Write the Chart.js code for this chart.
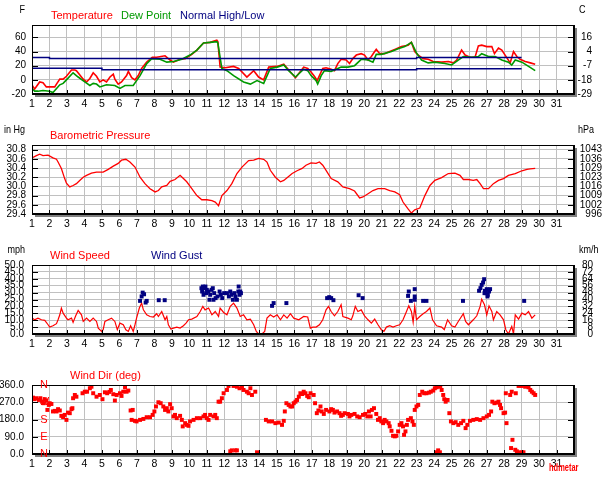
<!DOCTYPE html>
<html lang="en">
<head>
<meta charset="UTF-8">
<title>Weather month</title>
<script src="https://cdn.jsdelivr.net/npm/chart.js@4.4.0/dist/chart.umd.min.js"></script>
<style>
    body{ margin:0; background:#fff; width:614px; height:480px; overflow:hidden; }
    .panel{ position:absolute; left:0; width:614px; height:120px; }
</style>
</head>
<body>
<div class="panel" style="top:0"><canvas id="temp" width="614" height="120"></canvas></div>
<div class="panel" style="top:120px"><canvas id="baro" width="614" height="120"></canvas></div>
<div class="panel" style="top:240px"><canvas id="wind" width="614" height="120"></canvas></div>
<div class="panel" style="top:360px"><canvas id="dir" width="614" height="120"></canvas></div>
<script>
// ---- data: [day of month, value] ----
var dayTicks = [1,2,3,4,5,6,7,8,9,10,11,12,13,14,15,16,17,18,19,20,21,22,23,24,25,26,27,28,29,30,31];

var tempTicks = [-20, 0, 20, 40, 60];
var tempF = [[1.00,-7],[1.15,-13],[1.44,-3],[1.63,-4],[1.82,-10],[2.30,-10],[2.40,-6],[2.59,1],[2.78,1],[2.97,5],[3.26,14],[3.45,14],[3.54,13],[3.93,1],[4.12,-3],[4.31,2],[4.50,10],[4.69,5],[4.88,-3],[5.07,0],[5.26,-3],[5.46,4],[5.65,8],[5.74,1],[5.93,-6],[6.12,-3],[6.41,6],[6.51,12],[6.70,3],[6.89,0],[7.08,6],[7.27,16],[7.56,25],[7.88,32],[8.13,32],[8.61,34],[8.90,28],[9.09,25],[9.47,29],[9.76,30],[10.14,36],[10.43,42],[10.81,52],[11.19,53],[11.57,56],[11.63,54],[11.76,18],[12.05,17],[12.53,19],[12.82,16],[13.29,4],[13.68,13],[13.96,4],[14.25,0],[14.54,18],[15.02,19],[15.40,22],[15.78,11],[16.07,3],[16.54,18],[16.77,16],[16.96,11],[17.15,5],[17.31,-1],[17.44,6],[17.63,16],[17.82,17],[18.11,15],[18.30,13],[18.49,23],[18.68,29],[18.97,28],[19.16,23],[19.35,30],[19.55,35],[19.83,37],[20.02,35],[20.22,28],[20.41,33],[20.60,40],[20.69,43],[20.89,37],[21.17,37],[21.46,40],[21.75,43],[22.13,47],[22.51,49],[22.70,53],[22.89,40],[23.09,35],[23.37,30],[23.66,29],[23.95,26],[24.43,25],[24.81,26],[25.10,24],[25.29,28],[25.57,42],[25.77,35],[26.05,32],[26.34,32],[26.53,48],[26.72,49],[27.01,47],[27.30,47],[27.45,37],[27.68,45],[27.87,42],[28.06,35],[28.35,24],[28.54,40],[28.73,33],[28.92,29],[29.21,26],[29.50,24],[29.78,22]];
var dewF = [[1.00,-12],[1.15,-16],[1.34,-16],[1.63,-15],[2.01,-16],[2.20,-18],[2.59,-7],[2.78,-5],[2.97,0],[3.35,10],[3.64,4],[4.02,-3],[4.31,-8],[4.50,-5],[4.69,-6],[4.88,-10],[5.26,-7],[5.74,-8],[6.03,-12],[6.32,-8],[6.79,-8],[7.18,6],[7.56,23],[7.85,30],[8.32,29],[8.71,25],[9.09,26],[9.57,29],[10.04,35],[10.43,42],[10.81,52],[11.19,53],[11.57,54],[11.63,52],[11.86,16],[12.15,13],[12.53,6],[13.10,-3],[13.49,-6],[13.87,-1],[14.25,-5],[14.63,16],[15.02,18],[15.40,21],[15.68,13],[16.07,4],[16.54,15],[16.77,13],[16.96,6],[17.25,-1],[17.34,-6],[17.54,6],[17.73,13],[18.11,12],[18.49,16],[18.68,18],[19.07,18],[19.45,20],[19.83,29],[20.22,28],[20.50,25],[20.69,36],[20.98,36],[21.56,40],[21.94,44],[22.32,47],[22.70,53],[22.99,38],[23.28,28],[23.66,24],[24.04,25],[24.62,23],[25.00,21],[25.38,28],[25.67,33],[26.15,32],[26.53,33],[26.72,37],[27.11,33],[27.49,33],[27.87,28],[28.25,25],[28.44,21],[28.64,28],[29.02,25],[29.40,19],[29.78,13]];
var normHigh = [[1,31.6],[2,31.6],[2,30.2],[23,30.2],[23,31.6],[29,31.6]];
var normLow = [[1,16.3],[5,16.3],[5,14.4],[23,14.4],[23,15.8],[29,15.8]];

var baroTicks = [29.4, 29.6, 29.8, 30.0, 30.2, 30.4, 30.6, 30.8];
var baroInHg = [[1.00,30.62],[1.25,30.67],[1.44,30.70],[1.63,30.67],[1.92,30.68],[2.20,30.62],[2.40,30.59],[2.49,30.53],[2.68,30.39],[2.87,30.17],[2.97,30.07],[3.16,29.99],[3.35,30.02],[3.54,30.06],[3.73,30.13],[3.93,30.20],[4.12,30.24],[4.40,30.29],[4.69,30.31],[5.07,30.31],[5.36,30.37],[5.65,30.44],[5.93,30.50],[6.12,30.57],[6.37,30.59],[6.60,30.53],[6.89,30.42],[7.18,30.20],[7.46,30.06],[7.75,29.95],[8.04,29.88],[8.23,29.91],[8.42,29.99],[8.71,30.02],[8.90,30.11],[9.18,30.15],[9.47,30.24],[9.66,30.17],[9.85,30.10],[10.14,29.95],[10.43,29.80],[10.71,29.71],[11.00,29.71],[11.29,29.69],[11.48,29.66],[11.67,29.58],[11.86,29.80],[12.15,29.91],[12.43,30.06],[12.72,30.28],[13.01,30.42],[13.39,30.56],[13.68,30.57],[13.96,30.61],[14.25,30.59],[14.44,30.53],[14.63,30.35],[14.92,30.20],[15.21,30.10],[15.40,30.13],[15.59,30.19],[15.88,30.28],[16.16,30.34],[16.45,30.39],[16.67,30.46],[16.96,30.51],[17.25,30.50],[17.44,30.53],[17.63,30.46],[17.82,30.35],[18.11,30.17],[18.49,30.10],[18.78,29.99],[19.16,29.95],[19.45,29.90],[19.74,29.75],[19.93,29.77],[20.22,29.84],[20.50,29.91],[20.79,29.95],[21.17,29.95],[21.46,29.91],[21.75,29.88],[22.03,29.82],[22.22,29.66],[22.51,29.51],[22.70,29.42],[22.89,29.49],[23.18,29.53],[23.47,29.80],[23.76,30.02],[24.04,30.13],[24.43,30.19],[24.81,30.28],[25.19,30.29],[25.48,30.24],[25.67,30.15],[25.96,30.15],[26.24,30.13],[26.44,30.15],[26.63,30.06],[26.82,29.95],[27.11,29.95],[27.39,30.06],[27.68,30.13],[27.97,30.17],[28.25,30.24],[28.64,30.28],[29.02,30.34],[29.31,30.37],[29.50,30.38],[29.78,30.39]];

var windTicks = [0, 5, 10, 15, 20, 25, 30, 35, 40, 45, 50];
var windMph = [[1.00,11.5],[1.15,10.3],[1.34,11.5],[1.54,10.3],[1.73,9.9],[1.92,6.7],[2.01,5.0],[2.20,6.0],[2.40,7.5],[2.49,10.3],[2.59,13.9],[2.68,18.8],[2.78,15.1],[2.97,11.5],[3.06,10.3],[3.26,11.5],[3.35,8.4],[3.50,13.2],[3.64,17.1],[3.83,13.9],[3.93,9.1],[4.12,11.5],[4.31,9.1],[4.50,11.5],[4.69,9.1],[4.79,4.3],[4.98,1.9],[5.07,3.1],[5.17,9.1],[5.36,10.3],[5.55,11.5],[5.74,9.1],[5.88,3.1],[6.03,7.9],[6.22,6.7],[6.37,3.1],[6.51,1.9],[6.64,6.0],[6.79,1.9],[6.89,6.7],[6.98,11.5],[7.14,18.8],[7.27,22.4],[7.37,17.5],[7.56,13.9],[7.75,12.7],[7.94,12.3],[8.13,14.7],[8.23,12.7],[8.42,16.3],[8.61,10.3],[8.71,12.7],[8.80,6.7],[8.94,3.6],[9.09,4.3],[9.28,5.0],[9.47,4.3],[9.66,6.0],[9.81,7.9],[9.95,10.3],[10.14,10.8],[10.43,12.7],[10.62,16.3],[10.77,20.0],[10.90,17.5],[11.10,18.8],[11.29,13.9],[11.48,16.3],[11.67,12.7],[11.76,18.8],[11.96,15.6],[12.15,13.9],[12.34,20.0],[12.53,22.4],[12.72,18.8],[12.91,12.7],[13.10,13.9],[13.29,10.3],[13.49,10.8],[13.68,6.7],[13.83,1.9],[13.96,0],[14.15,0],[14.31,1.9],[14.44,11.5],[14.63,13.9],[14.82,12.3],[15.02,13.9],[15.21,10.3],[15.40,13.9],[15.59,11.5],[15.78,14.7],[15.97,11.5],[16.26,10.3],[16.54,12.7],[16.77,12.3],[16.92,4.3],[17.06,5.0],[17.25,5.0],[17.44,6.7],[17.63,10.3],[17.82,17.5],[17.96,20.0],[18.11,16.3],[18.30,13.2],[18.49,16.3],[18.68,21.2],[18.78,12.7],[19.07,11.5],[19.26,10.3],[19.35,13.2],[19.49,20.0],[19.64,16.3],[19.83,17.5],[20.02,13.2],[20.22,10.3],[20.41,7.9],[20.60,10.8],[20.79,6.7],[20.98,3.1],[21.13,1.9],[21.27,5.0],[21.46,6.0],[21.65,5.0],[21.84,6.0],[22.03,6.7],[22.22,10.3],[22.42,16.3],[22.55,20.4],[22.70,16.3],[22.80,8.4],[22.89,20.0],[22.99,10.3],[23.18,12.7],[23.37,14.7],[23.56,16.3],[23.76,18.8],[23.91,10.3],[24.14,6.0],[24.43,5.0],[24.58,3.1],[24.77,10.3],[25.00,6.0],[25.19,5.0],[25.38,9.1],[25.67,14.7],[25.80,9.1],[25.96,6.7],[26.24,10.3],[26.44,13.2],[26.63,20.0],[26.72,25.2],[26.88,21.2],[27.01,13.9],[27.14,20.4],[27.30,16.3],[27.39,10.3],[27.58,16.3],[27.77,13.9],[27.97,10.3],[28.10,3.1],[28.25,0],[28.44,5.5],[28.54,0],[28.64,13.9],[28.83,10.8],[29.02,15.1],[29.21,13.9],[29.40,16.3],[29.59,11.5],[29.78,13.9]];
var gustMph = [[7.18,24.0],[7.27,27.2],[7.33,30.0],[7.41,28.8],[7.50,22.8],[7.56,24.0],[8.25,24.5],[8.59,24.5],[10.69,33.2],[10.77,34.4],[10.85,33.2],[10.92,34.4],[11.00,32.0],[10.73,30.8],[10.81,28.4],[10.96,29.6],[11.08,30.8],[11.19,28.4],[11.27,32.0],[11.34,33.2],[11.42,29.6],[11.38,24.8],[11.15,24.8],[11.50,26.0],[11.61,27.2],[11.73,30.8],[11.80,28.4],[11.88,26.0],[11.99,29.6],[12.15,29.6],[12.26,27.2],[12.34,30.8],[12.41,28.4],[12.49,24.8],[12.57,29.6],[12.64,27.2],[12.72,24.8],[12.80,30.8],[12.87,28.4],[12.95,29.6],[12.82,34.4],[12.91,30.8],[14.73,20.4],[14.82,22.4],[15.55,22.4],[17.88,26.0],[18.00,26.7],[18.11,26.0],[18.24,24.5],[19.68,28.1],[19.91,26.0],[22.51,27.6],[22.55,30.8],[22.67,24.0],[22.89,32.5],[22.89,27.2],[22.89,24.8],[23.37,24.0],[23.56,24.0],[25.65,24.0],[26.57,31.3],[26.65,33.2],[26.72,35.6],[26.80,37.3],[26.86,39.7],[26.91,31.3],[26.95,29.6],[27.01,32.5],[27.07,28.4],[27.14,30.8],[27.20,32.5],[27.05,27.2],[26.88,29.6],[29.15,24.0]];

var dirTicks = [0, 90, 180, 270, 360];
var dirLetters = ['N', 'E', 'S', 'W', 'N'];
var windDeg = [[1.06,294],[1.15,286],[1.25,291],[1.40,282],[1.48,291],[1.59,273],[1.67,265],[1.73,286],[1.82,279],[1.88,230],[1.96,256],[2.01,265],[2.11,261],[2.20,222],[2.30,225],[2.40,222],[2.49,234],[2.59,227],[2.68,199],[2.78,192],[2.87,204],[2.97,178],[3.06,216],[3.16,213],[3.26,234],[3.31,239],[3.35,291],[3.45,308],[3.54,299],[3.89,317],[4.02,325],[4.15,325],[4.31,343],[4.40,351],[4.50,317],[4.69,299],[4.88,308],[5.03,286],[5.17,322],[5.30,317],[5.42,324],[5.51,334],[5.65,312],[5.74,279],[5.84,308],[6.03,317],[6.12,303],[6.22,325],[6.32,348],[6.41,325],[6.51,331],[6.64,227],[6.76,230],[6.70,178],[6.89,173],[6.98,170],[7.18,178],[7.37,183],[7.56,192],[7.75,192],[7.90,204],[8.00,222],[8.09,248],[8.23,270],[8.36,265],[8.51,248],[8.61,230],[8.71,239],[8.80,222],[8.90,260],[8.99,239],[9.09,196],[9.18,204],[9.28,187],[9.47,199],[9.57,178],[9.62,144],[9.76,161],[9.85,152],[9.95,147],[10.04,170],[10.24,178],[10.43,187],[10.62,187],[10.81,196],[10.90,204],[11.00,187],[11.10,178],[11.19,204],[11.38,196],[11.48,204],[11.57,187],[11.67,273],[11.76,273],[11.86,291],[11.96,317],[12.15,334],[12.24,355],[12.53,355],[12.72,351],[12.87,343],[13.01,348],[13.10,334],[13.29,325],[13.39,317],[13.49,343],[13.58,308],[13.77,325],[12.34,14],[12.43,19],[12.63,19],[12.72,19],[13.87,9],[14.38,178],[14.54,170],[14.73,170],[14.92,161],[15.11,164],[15.30,152],[15.40,173],[15.46,222],[15.55,265],[15.68,256],[15.78,248],[15.88,248],[15.97,265],[16.07,273],[16.16,282],[16.26,299],[16.35,317],[16.45,313],[16.54,325],[16.64,317],[16.74,303],[16.83,296],[16.93,317],[17.11,308],[17.19,265],[17.29,213],[17.38,227],[17.50,248],[17.57,222],[17.69,209],[17.82,230],[18.01,222],[18.11,234],[18.21,230],[18.30,216],[18.45,222],[18.59,213],[18.68,199],[18.78,204],[18.88,213],[19.07,209],[19.16,196],[19.26,204],[19.45,209],[19.60,196],[19.74,192],[19.93,204],[20.06,209],[20.18,196],[20.27,222],[20.37,196],[20.44,230],[20.56,239],[20.69,209],[20.79,178],[20.89,187],[20.98,170],[21.08,161],[21.17,178],[21.27,170],[21.40,161],[21.46,144],[21.56,121],[21.65,95],[21.75,92],[21.84,95],[21.94,118],[22.03,152],[22.13,161],[22.22,144],[22.28,100],[22.36,118],[22.44,152],[22.51,178],[22.67,187],[22.76,170],[22.84,152],[22.89,230],[22.99,248],[23.09,256],[23.18,308],[23.32,325],[23.43,317],[23.56,317],[23.70,320],[23.81,325],[23.95,331],[24.04,343],[24.14,348],[24.23,351],[24.35,355],[24.43,334],[24.52,308],[24.58,286],[24.66,273],[24.77,282],[24.87,213],[24.96,170],[25.10,161],[25.23,166],[25.38,152],[25.54,161],[25.67,173],[25.80,135],[25.90,152],[26.05,173],[26.24,178],[26.44,182],[26.63,178],[26.82,187],[27.01,196],[27.14,204],[27.26,222],[27.33,273],[27.45,265],[27.58,268],[27.68,273],[27.77,256],[27.83,239],[27.97,213],[28.06,216],[28.14,161],[28.10,317],[28.35,308],[28.44,325],[28.67,317],[28.83,355],[29.02,355],[29.21,351],[29.40,348],[29.50,334],[29.59,325],[29.69,317],[29.78,308],[24.14,9],[24.23,19],[24.33,9],[28.40,31],[28.48,74],[28.64,22],[28.73,14],[28.83,9],[29.02,9],[29.11,9]];

// ---- look ----
var RED = '#ff0000', GREEN = '#009900', NAVY = '#000080', GRID = '#c0c0c0';
var SANS = "'Liberation Sans', Arial, sans-serif";
var yFont = { family: SANS, size: 10 };
var xFont = { family: SANS, size: 10.5 };
var unitFont = "11px " + SANS;
var titleFont = "11px " + SANS;

function xy(arr) { return arr.map(function (p) { return { x: p[0], y: p[1] }; }); }
function setTicks(vals) { return function (s) { s.ticks = vals.map(function (v) { return { value: v }; }); }; }

// frame with shadow, inner tick marks and captions
var framePlugin = {
    id: 'frame',
    afterDraw: function (chart, args, o) {
        var ctx = chart.ctx, a = chart.chartArea, sy = chart.scales.y, sx = chart.scales.x;
        var w = a.right - a.left, h = a.bottom - a.top;
        ctx.save();
        ctx.fillStyle = '#808080';
        ctx.fillRect(a.right + 1, a.top + 3, 2, h);
        ctx.fillRect(a.left + 3, a.bottom + 1, w, 2);
        ctx.strokeStyle = '#000';
        ctx.lineWidth = 1;
        ctx.strokeRect(a.left + 0.5, a.top + 0.5, w, h);
        ctx.fillStyle = '#000';
        ctx.fillRect(a.right - 1, a.top, 2, h + 1);
        ctx.fillRect(a.left, a.bottom - 1, w + 1, 2);
        ctx.beginPath();
        sy.ticks.forEach(function (t) {
            var y = Math.round(sy.getPixelForValue(t.value)) + 0.5;
            ctx.moveTo(a.left, y); ctx.lineTo(a.left + 6, y);
            ctx.moveTo(a.right - 6, y); ctx.lineTo(a.right, y);
        });
        sx.ticks.forEach(function (t) {
            var x = Math.round(sx.getPixelForValue(t.value)) + 0.5;
            ctx.moveTo(x, a.bottom); ctx.lineTo(x, a.bottom - 4);
        });
        ctx.stroke();
        if (o.letters) {
            ctx.font = unitFont; ctx.fillStyle = RED;
            ctx.textAlign = 'center'; ctx.textBaseline = 'middle';
            o.letters.forEach(function (l, i) {
                ctx.fillText(l, a.left + 12, sy.getPixelForValue(dirTicks[i]));
            });
        }
        (o.texts || []).forEach(function (t) {
            var sc = t.sx || 1;
            ctx.save();
            ctx.font = t.font || titleFont;
            ctx.fillStyle = t.color || '#000';
            ctx.textAlign = t.align || 'left';
            ctx.textBaseline = 'middle';
            ctx.translate(t.x, t.y);
            ctx.scale(sc, 1);
            ctx.fillText(t.text, 0, 0);
            ctx.restore();
        });
        ctx.restore();
    }
};

function panel(id, c) {
    var scales = {
        x: {
            type: 'linear', min: 1, max: 32,
            grid: { color: GRID, drawTicks: false },
            border: { display: false },
            afterBuildTicks: setTicks(dayTicks),
            ticks: { autoSkip: false, maxRotation: 0, padding: 4, color: '#000', font: xFont },
            afterFit: function (s) { s.height = 26; }
        },
        y: {
            position: 'left', min: c.min, max: c.max,
            grid: { color: GRID, drawTicks: false },
            border: { display: false },
            afterBuildTicks: setTicks(c.ticks),
            ticks: { autoSkip: false, padding: c.pad || 6, color: '#000', font: yFont, callback: c.left },
            afterFit: function (s) { s.width = 32; }
        }
    };
    if (c.right) {
        scales.y2 = {
            position: 'right', min: c.min, max: c.max,
            grid: { display: false, drawTicks: false },
            border: { display: false },
            afterBuildTicks: setTicks(c.ticks),
            ticks: { autoSkip: false, crossAlign: 'far', padding: 0, color: '#000', font: yFont, callback: c.right },
            afterFit: function (s) { s.width = c.rightW; }
        };
    }
    return new Chart(document.getElementById(id), {
        type: 'line',
        data: { datasets: c.datasets },
        options: {
            responsive: false, animation: false, devicePixelRatio: 1,
            layout: { padding: { top: 25, left: 0, bottom: 0, right: 40 - (c.right ? c.rightW : 0) } },
            elements: { point: { radius: 0 }, line: { tension: 0 } },
            plugins: { legend: { display: false }, tooltip: { enabled: false }, frame: { texts: c.texts, letters: c.letters } },
            scales: scales
        },
        plugins: [framePlugin]
    });
}

function line(data, color, w) {
    return { data: xy(data), borderColor: color, borderWidth: w, pointRadius: 0, fill: false };
}
function dots(data, color) {
    return { data: xy(data), showLine: false, pointStyle: 'rect', pointRadius: 2.8, borderWidth: 0, backgroundColor: color, borderColor: color };
}

panel('temp', {
    min: -20, max: 77.5, ticks: tempTicks,
    left: function (v) { return v; },
    right: function (v) { return Math.round((v - 32) * 5 / 9); }, rightW: 18,
    datasets: [line(normHigh, NAVY, 1.5), line(normLow, NAVY, 1.5), line(dewF, GREEN, 1.6), line(tempF, RED, 1.6)],
    texts: [
        { text: 'F', x: 25, y: 10, align: 'right', font: unitFont, sx: 0.82 },
        { text: 'C', x: 579, y: 10, font: unitFont, sx: 0.82 },
        { text: 'Temperature', x: 51, y: 16, color: RED },
        { text: 'Dew Point', x: 121, y: 16, color: GREEN },
        { text: 'Normal High/Low', x: 180, y: 16, color: NAVY }
    ]
});

panel('baro', {
    min: 29.4, max: 30.9, ticks: baroTicks,
    left: function (v) { return v.toFixed(1); },
    right: function (v) { return Math.round(v * 33.8639); }, rightW: 28,
    datasets: [line(baroInHg, RED, 1.3)],
    texts: [
        { text: 'in Hg', x: 25, y: 10, align: 'right', font: unitFont, sx: 0.82 },
        { text: 'hPa', x: 578, y: 10, font: unitFont, sx: 0.82 },
        { text: 'Barometric Pressure', x: 50, y: 16, color: RED }
    ]
});

panel('wind', {
    min: 0, max: 50, ticks: windTicks, pad: 8,
    left: function (v) { return v.toFixed(1); },
    right: function (v) { return Math.round(v * 1.609); }, rightW: 19,
    datasets: [dots(gustMph, NAVY), line(windMph, RED, 1.2)],
    texts: [
        { text: 'mph', x: 25, y: 10, align: 'right', font: unitFont, sx: 0.82 },
        { text: 'km/h', x: 579, y: 10, font: unitFont, sx: 0.82 },
        { text: 'Wind Speed', x: 50, y: 16, color: RED },
        { text: 'Wind Gust', x: 151, y: 16, color: NAVY }
    ]
});

panel('dir', {
    min: 0, max: 360, ticks: dirTicks, pad: 8,
    left: function (v) { return v.toFixed(1); },
    datasets: [dots(windDeg, RED)],
    letters: dirLetters,
    texts: [
        { text: 'Wind Dir (deg)', x: 70, y: 16, color: RED },
        { text: 'hdmetar', x: 549, y: 108, color: RED, font: "bold 11px " + SANS, sx: 0.68 }
    ]
});
</script>
</body>
</html>
